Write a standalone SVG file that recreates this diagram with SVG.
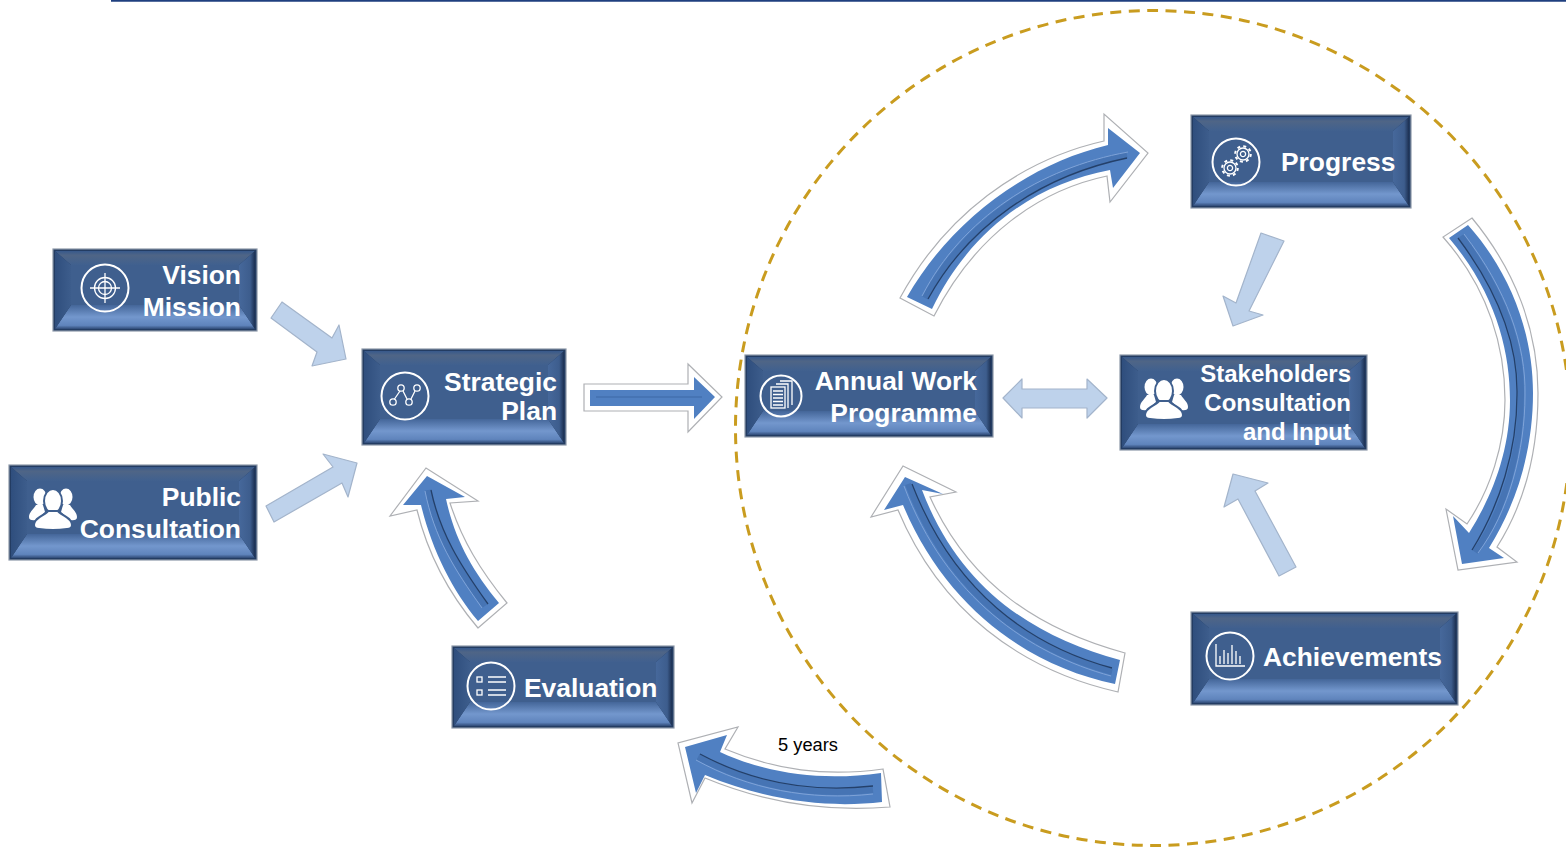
<svg xmlns="http://www.w3.org/2000/svg" xmlns:xlink="http://www.w3.org/1999/xlink" width="1566" height="847" viewBox="0 0 1566 847">
<style>
.base{fill:#233c62;stroke:#8d98a8;stroke-width:1.2}
.bt{fill:url(#gt)}.bb{fill:url(#gb)}.bl{fill:url(#gl)}.br{fill:url(#gr)}.f{fill:#3f5f8e}
.t{font-family:"Liberation Sans",Arial,sans-serif;font-weight:700;font-size:26.400px;fill:#fff}
.e{text-anchor:end}
.s{font-size:24px}
.i{fill:none;stroke:#fff;stroke-width:2}
.th{fill:none;stroke:#fff;stroke-width:1.3}
.w{fill:#fff}
.ao{fill:#fff;stroke:#aeb0b4;stroke-width:1.2}
.ab{fill:#5080c2}
.g1{fill:none;stroke:#4674b4;stroke-width:6}
.g2{fill:none;stroke:#24406a;stroke-width:1.3}
.g3{fill:none;stroke:#7fa3d8;stroke-width:1}
.al{fill:#bed2eb;stroke:#a3b4cb;stroke-width:1.2;stroke-linejoin:round}
</style>
<defs>
<linearGradient id="gt" x1="0" y1="0" x2="0" y2="1"><stop offset="0" stop-color="#37598c"/><stop offset=".3" stop-color="#4f6586"/><stop offset="1" stop-color="#40608f"/></linearGradient>
<linearGradient id="gb" x1="0" y1="0" x2="0" y2="1"><stop offset="0" stop-color="#446699"/><stop offset=".5" stop-color="#7397cd"/><stop offset=".85" stop-color="#5f84bc"/><stop offset="1" stop-color="#2f4a76"/></linearGradient>
<linearGradient id="gl" x1="0" y1="0" x2="1" y2="0"><stop offset="0" stop-color="#2f4e7d"/><stop offset="1" stop-color="#3d5d8c"/></linearGradient>
<linearGradient id="gr" x1="0" y1="0" x2="1" y2="0"><stop offset="0" stop-color="#46689b"/><stop offset=".7" stop-color="#3d5d8d"/><stop offset="1" stop-color="#1c3052"/></linearGradient>
<g id="people">
<ellipse class="w" cx="-13" cy="-12" rx="6.500" ry="8.500"/><ellipse class="w" cx="13" cy="-12" rx="6.500" ry="8.500"/>
<path class="w" d="M-17,-4C-19,0 -24,3 -24,8Q-24,12 -17,11L-8,3L-10,-4Z"/>
<path class="w" d="M17,-4C19,0 24,3 24,8Q24,12 17,11L8,3L10,-4Z"/>
<g fill="#fff" stroke="#3f5f8e" stroke-width="2"><ellipse cx="0" cy="-8" rx="9" ry="12"/>
<path d="M-5,2C-7,6 -19,8 -19,16Q-19,20 -14,20Q0,22 14,20Q19,20 19,16C19,8 7,6 5,2Z"/></g>
</g>
<g id="gear"><circle r="6" class="th"/><circle r="2.600" class="th"/><circle r="7.800" fill="none" stroke="#fff" stroke-width="2" stroke-dasharray="3 3.130"/></g>
</defs>
<rect width="1566" height="847" fill="#fff"/>
<line x1="111" y1="0.800" x2="1566" y2="0.800" stroke="#1f3f7f" stroke-width="2"/>
<circle cx="1153" cy="428" r="417.500" fill="none" stroke="#c99c1f" stroke-width="3" stroke-dasharray="11 7.500"/>

<g id="connectors">
<polygon class="al" points="282,302 332,338 339,325 346,359 312,366 317,352 271,318"/>
<polygon class="al" points="266,506 274,522 342,483 348,497 357,463 323,454 333,467"/>
<polygon class="al" points="1261,233 1284,241 1249,311 1263,315 1233,326 1223,296 1236,303"/>
<polygon class="al" points="1233,474 1268,483 1255,491 1296,567 1279,576 1238,499 1224,507"/>
<polygon class="al" points="1003,398 1022,379 1022,389 1087,389 1087,379 1107,398 1087,418 1087,408 1022,408 1022,418"/>

<polygon class="ao" points="584,384 688,384 688,364 722,397 688,432 688,411 584,411"/>
<polygon class="ab" points="590,390 694,390 694,377 715,397 694,419 694,406 590,406"/>
<line x1="596" y1="397" x2="702" y2="397" stroke="#4674b4" stroke-width="2"/>

<path class="ao" d="M900,298C945,215 1020,160 1104,141L1104,114L1148,153L1110,202L1107,176C1040,190 975,235 934,316Z"/>
<path class="ab" d="M907,297C950,222 1025,165 1108,145L1108,128L1140,153L1113,188L1110,170C1035,184 970,230 932,309Z"/>
<path class="g1" d="M925,298C965,222 1040,172 1127,155"/>
<path class="g2" d="M928,299C968,226 1040,176 1127,158"/>
<path class="g3" d="M922,296C962,218 1040,168 1128,152"/>

<path class="ao" d="M1443,237C1490,290 1505,350 1505,400C1505,445 1490,490 1467,524L1446,509L1458,570L1517,562L1497,547C1530,495 1538,440 1538,393C1538,330 1515,270 1472,218Z"/>
<path class="ab" d="M1449,238C1495,292 1510,350 1510,400C1510,450 1493,495 1469,533L1453,516L1462,564L1504,558L1489,548C1522,495 1533,440 1533,393C1533,332 1510,272 1468,225Z"/>
<path class="g1" d="M1461,236C1503,292 1522,345 1521,395C1521,450 1505,510 1475,552"/>
<path class="g2" d="M1458,238C1500,294 1518,345 1517,395C1517,450 1500,505 1472,550"/>
<path class="g3" d="M1464,234C1507,290 1526,345 1525,395C1525,450 1509,512 1478,553"/>

<path class="ao" d="M1125,653C1040,630 970,585 930,497L956,492L903,466L871,517L898,510C940,610 1020,670 1118,692Z"/>
<path class="ab" d="M1120,660C1035,637 960,590 922,490L943,494L905,477L884,510L903,505C945,605 1025,665 1115,684Z"/>
<path class="g1" d="M1112,672C1030,650 950,595 908,484"/>
<path class="g2" d="M1112,668C1030,646 954,592 912,484"/>
<path class="g3" d="M1111,676C1030,654 946,598 904,486"/>

<path class="ao" d="M478,628L507,603C480,570 462,540 450,503L478,501L426,468L390,516L417,510C428,555 450,595 478,628Z"/>
<path class="ab" d="M478,621L499,603C472,570 455,540 446,499L465,497L427,476L403,505L421,505C432,550 452,590 478,621Z"/>
<path class="g1" d="M485,606C457,567 437,535 428,490"/>
<path class="g2" d="M488,604C460,565 440,533 431,490"/>
<path class="g3" d="M482,608C454,569 434,537 425,491"/>

<path class="ao" d="M883,769C825,777 775,770 725,749L738,727L678,743L692,803L705,778C770,805 830,812 890,807Z"/>
<path class="ab" d="M881,773C825,781 770,775 720,752L727,735L685,747L696,793L705,775C770,802 830,808 882,802Z"/>
<path class="g1" d="M873,790C810,797 750,785 698,757"/>
<path class="g2" d="M873,786C810,793 752,782 700,754"/>
<path class="g3" d="M873,794C810,801 748,789 696,760"/>
</g>

<g id="vision">
<rect class="base" x="53" y="249" width="204" height="82"/>
<polygon class="bt" points="55,251 255,251 239,265 71,265"/><polygon class="bb" points="55,329 255,329 239,305 71,305"/>
<polygon class="bl" points="55,251 71,265 71,305 55,329"/><polygon class="br" points="255,251 239,265 239,305 255,329"/>
<rect class="f" x="71" y="265" width="168" height="40"/>
<circle class="i" cx="105" cy="288" r="23.500"/>
<circle class="th" cx="105" cy="288" r="10.500"/><circle class="th" cx="105" cy="288" r="6.500"/>
<path class="th" d="M105,273V303M90,288H120"/>
<text class="t e" x="241" y="284">Vision</text><text class="t e" x="241" y="316">Mission</text>
</g>

<g id="public">
<rect class="base" x="9" y="465" width="248" height="95"/>
<polygon class="bt" points="11,467 255,467 239,481 27,481"/><polygon class="bb" points="11,558 255,558 239,534 27,534"/>
<polygon class="bl" points="11,467 27,481 27,534 11,558"/><polygon class="br" points="255,467 239,481 239,534 255,558"/>
<rect class="f" x="27" y="481" width="212" height="53"/>
<use xlink:href="#people" href="#people" x="53" y="509"/>
<text class="t e" x="241" y="506">Public</text><text class="t e" x="241" y="538">Consultation</text>
</g>

<g id="strategic">
<rect class="base" x="362" y="349" width="204" height="96"/>
<polygon class="bt" points="364,351 564,351 548,365 380,365"/><polygon class="bb" points="364,443 564,443 548,419 380,419"/>
<polygon class="bl" points="364,351 380,365 380,419 364,443"/><polygon class="br" points="564,351 548,365 548,419 564,443"/>
<rect class="f" x="380" y="365" width="168" height="54"/>
<circle class="i" cx="405" cy="396" r="23.500"/>
<path class="th" stroke-width="1.600" d="M394.500,399L400,391M403,391L407,399M411,399L415,391"/>
<circle class="th" cx="393" cy="402" r="3.200"/><circle class="th" cx="401" cy="388" r="3.200"/><circle class="th" cx="409" cy="402" r="3.200"/><circle class="th" cx="417" cy="388" r="3.200"/>
<text class="t e" x="557" y="391">Strategic</text><text class="t e" x="557" y="420">Plan</text>
</g>

<g id="evaluation">
<rect class="base" x="452" y="646" width="222" height="82"/>
<polygon class="bt" points="454,648 672,648 656,662 470,662"/><polygon class="bb" points="454,726 672,726 656,702 470,702"/>
<polygon class="bl" points="454,648 470,662 470,702 454,726"/><polygon class="br" points="672,648 656,662 656,702 672,726"/>
<rect class="f" x="470" y="662" width="186" height="40"/>
<circle class="i" cx="491" cy="686" r="23.500"/>
<path class="th" d="M488,677H506M488,682H506M488,690H506M488,695H506"/>
<rect class="th" x="477" y="677" width="5" height="5"/><rect class="th" x="477" y="690" width="5" height="5"/>
<text class="t" x="524" y="697">Evaluation</text>
</g>

<g id="annual-work-programme">
<rect class="base" x="745" y="355" width="248" height="82"/>
<polygon class="bt" points="747,357 991,357 975,371 763,371"/><polygon class="bb" points="747,435 991,435 975,411 763,411"/>
<polygon class="bl" points="747,357 763,371 763,411 747,435"/><polygon class="br" points="991,357 975,371 975,411 991,435"/>
<rect class="f" x="763" y="371" width="212" height="40"/>
<circle class="i" cx="781" cy="396" r="20.500"/>
<path class="th" d="M780,381H792V405M776,384H788V408"/>
<rect class="th" x="771" y="387" width="14" height="21"/>
<path class="th" d="M773,391H783M773,394.500H783M773,398H783M773,401.500H783M773,405H783"/>
<text class="t e" x="977" y="390">Annual Work</text><text class="t e" x="977" y="422">Programme</text>
</g>

<g id="stakeholders">
<rect class="base" x="1120" y="355" width="247" height="95"/>
<polygon class="bt" points="1122,357 1365,357 1349,371 1138,371"/><polygon class="bb" points="1122,448 1365,448 1349,424 1138,424"/>
<polygon class="bl" points="1122,357 1138,371 1138,424 1122,448"/><polygon class="br" points="1365,357 1349,371 1349,424 1365,448"/>
<rect class="f" x="1138" y="371" width="211" height="53"/>
<use xlink:href="#people" href="#people" x="1164" y="399"/>
<text class="t s e" x="1351" y="382">Stakeholders</text><text class="t s e" x="1351" y="411">Consultation</text><text class="t s e" x="1351" y="440">and Input</text>
</g>

<g id="progress">
<rect class="base" x="1191" y="115" width="220" height="93"/>
<polygon class="bt" points="1193,117 1409,117 1393,131 1209,131"/><polygon class="bb" points="1193,206 1409,206 1393,182 1209,182"/>
<polygon class="bl" points="1193,117 1209,131 1209,182 1193,206"/><polygon class="br" points="1409,117 1393,131 1393,182 1409,206"/>
<rect class="f" x="1209" y="131" width="184" height="51"/>
<circle class="i" cx="1236" cy="162" r="23.500"/>
<use xlink:href="#gear" href="#gear" x="1243" y="154"/><use xlink:href="#gear" href="#gear" x="1230" y="168"/>
<text class="t" x="1281" y="171">Progress</text>
</g>

<g id="achievements">
<rect class="base" x="1191" y="612" width="267" height="93"/>
<polygon class="bt" points="1193,614 1456,614 1440,628 1209,628"/><polygon class="bb" points="1193,703 1456,703 1440,679 1209,679"/>
<polygon class="bl" points="1193,614 1209,628 1209,679 1193,703"/><polygon class="br" points="1456,614 1440,628 1440,679 1456,703"/>
<rect class="f" x="1209" y="628" width="231" height="51"/>
<circle class="i" cx="1230" cy="656" r="23.500"/>
<path class="th" stroke-width="1.600" d="M1216,644V666H1245M1220,664V656M1224,664V650M1228,664V653M1232,664V645M1236,664V651M1240,664V656"/>
<text class="t" x="1263" y="666">Achievements</text>
</g>

<text x="778" y="751" font-family="'Liberation Sans',Arial,sans-serif" font-size="18.300px" fill="#000">5 years</text>
</svg>
